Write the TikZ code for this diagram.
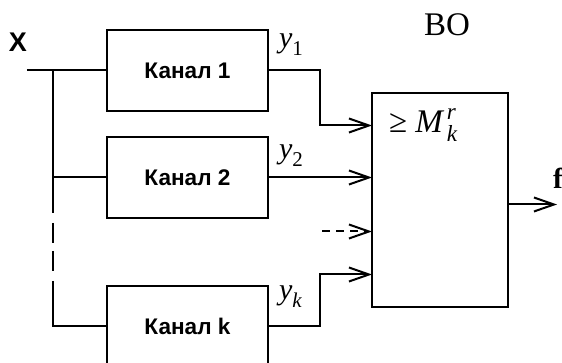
\documentclass[tikz,border=0pt]{standalone}
\usepackage{amsmath}
\usepackage{fontspec}
\setmainfont{Liberation Serif}
\setsansfont{Liberation Sans}
\usetikzlibrary{arrows.meta,positioning}

\tikzset{
  chan/.style={draw, line width=1pt, outer sep=0pt, minimum width=80.5pt, minimum height=40.5pt,
    font=\fontsize{11.3}{13}\selectfont\sffamily\bfseries},
  vote/.style={draw, line width=1pt, outer sep=0pt, minimum width=68pt, minimum height=107pt},
  sig/.style={anchor=base west, inner sep=0pt, font=\fontsize{15}{18}\selectfont}
}

\begin{document}
\begin{tikzpicture}[line width=1pt, >={Straight Barb[length=10pt,width=7pt]}]
   \useasboundingbox (-93.75pt,35.25pt) rectangle (187.25pt,-146.25pt);

   \node[chan] (c1) {Канал 1};
   \node[chan] (c2) [below=13pt of c1] {Канал 2};
   \node[chan] (ck) [below=34pt of c2] {Канал k};
   \node[vote] (bo) [right=52pt of c2, yshift=-11.5pt] {};

   % input bus
   \coordinate (xin) at ([xshift=-40pt]c1.west);
   \coordinate (j1) at ([xshift=-27pt]c1.west);
   \coordinate (b2) at (j1 |- c2.south);
   \coordinate (bk) at (j1 |- ck.north);
   \node[sig, font=\fontsize{13.5}{16}\selectfont\sffamily\bfseries] (xl) at ([xshift=-9.5pt,yshift=9.5pt]xin) {X};

   \draw (xin) -- (c1.west);
   \draw (j1) -- (j1 |- c2.west) -- (c2.west);
   \draw (j1 |- c2.west) -- ([yshift=2.5pt]b2);
   \draw[dash pattern=on 0pt off 5pt on 10pt off 4pt on 10pt off 5pt] ([yshift=2.5pt]b2) -- ([yshift=2.5pt]bk);
   \draw ([yshift=2.5pt]bk) -- (j1 |- ck.west) -- (ck.west);

   % inputs of the voter
   \coordinate (i1) at ([yshift=-16pt]bo.north west);
   \coordinate (i3) at ([yshift=-69pt]bo.north west);
   \coordinate (i4) at ([yshift=-90.5pt]bo.north west);
   \coordinate (d3) at ([xshift=-25pt]i3);

   \draw[->] (c1.east) -- ++(26pt,0) |- (i1);
   \draw[->] (c2.east) -- (c2.east -| bo.west);
   \draw[->, dash pattern=on 4pt off 3pt] (d3) -- (i3);
   \draw[->] (ck.east) -- ++(26pt,0) |- (i4);

   \node[sig] (y1) at ([xshift=5pt,yshift=-9pt]c1.north east) {$\textit{y}_{\text{1}}$};
   \node[sig] (y2) at ([xshift=5pt,yshift=-10.75pt]c2.north east) {$\textit{y}_{\text{2}}$};
   \node[sig] (yk) at ([xshift=5pt,yshift=-6.75pt]ck.north east) {$\textit{y}_{\textit{k}}$};

   \node[sig, font=\fontsize{16.5}{19}\selectfont] (m) at ([xshift=8pt,yshift=-19.5pt]bo.north west) {≥ $\textit{M}^{\,\textit{r}}_{\,\textit{k}}$};
   \node[sig, font=\fontsize{16.5}{19}\selectfont] (bol) at ([xshift=-8.5pt,yshift=29pt]bo.north) {ВО};

   % output
   \coordinate (o) at ([yshift=-2pt]bo.east);
   \coordinate (fo) at ([xshift=24.5pt]o);
   \draw[->] (o) -- (fo);
   \node[sig, font=\fontsize{14.5}{17}\selectfont\bfseries] (f) at ([xshift=-2.5pt,yshift=8pt]fo) {f};
\end{tikzpicture}
\end{document}
